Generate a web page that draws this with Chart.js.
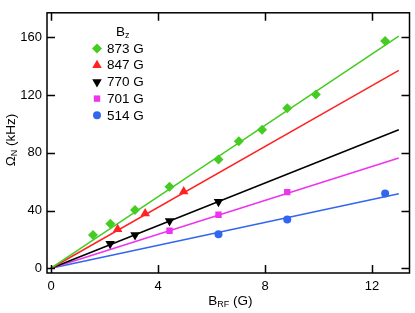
<!DOCTYPE html>
<html>
<head>
<meta charset="utf-8">
<script src="https://cdn.jsdelivr.net/npm/chart.js@4"></script>
<style>
  html, body { margin: 0; padding: 0; background: #fff; }
  #wrap { width: 415px; height: 313px; }
</style>
</head>
<body>
<div id="wrap"><canvas id="myChart" width="415" height="313"></canvas></div>
<script>
'use strict';

// series labels (B_z)
var labels = ['873 G', '847 G', '770 G', '701 G', '514 G'];
var colors = ['#44cc22', '#ff2222', '#000000', '#ee33ee', '#3366ee'];
var markers = ['rectRot', 'triangle', 'triangle', 'rect', 'circle'];
var markerRot = [0, 0, 180, 0, 0];
var markerSize = [5, 5.5, 5.5, 4.5, 4];

// measured points: B_RF (G)
var xs = [
  [1.57, 2.22, 3.14, 4.43, 6.26, 7.02, 7.89, 8.83, 9.9, 12.49],
  [2.49, 3.52, 4.96],
  [2.21, 3.14, 4.43, 6.26],
  [4.43, 6.26, 8.83],
  [6.26, 8.83, 12.49]
];
// Omega_N (kHz)
var ys = [
  [23, 30.9, 40.4, 56.5, 75.3, 88, 96, 110.9, 120.4, 157.5],
  [27.1, 38, 53.1],
  [16.9, 23.1, 32.7, 46],
  [26, 37.1, 52.7],
  [23.6, 33.8, 51.8]
];
// linear fits through the origin, value at B_RF = 13 G
var fitX = 13;
var fitEnd = [160.9, 137.1, 96, 76.4, 51.6];

var xTicks = [0, 4, 8, 12];
var yTicks = [0, 40, 80, 120, 160];

var FONT = 'Liberation Sans, Arial, sans-serif';

var datasets = [];
labels.forEach(function (lab, i) {
  datasets.push({
    type: 'line',
    label: lab + ' fit',
    data: [{ x: 0, y: 0 }, { x: fitX, y: fitEnd[i] }],
    borderColor: colors[i],
    borderWidth: 1.5,
    pointRadius: 0,
    fill: false,
    order: 2
  });
});
labels.forEach(function (lab, i) {
  datasets.push({
    type: 'scatter',
    label: lab,
    data: xs[i].map(function (x, k) { return { x: x, y: ys[i][k] }; }),
    backgroundColor: colors[i],
    borderColor: colors[i],
    borderWidth: 0,
    pointStyle: markers[i],
    rotation: markerRot[i],
    pointRadius: markerSize[i],
    order: 1
  });
});

// inward ticks, frame, legend and axis titles
var decor = {
  id: 'decor',
  afterDraw: function (chart) {
    var ctx = chart.ctx;
    var a = chart.chartArea;
    var sx = chart.scales.x, sy = chart.scales.y;
    ctx.save();
    ctx.strokeStyle = '#000';
    ctx.lineWidth = 1.5;
    ctx.strokeRect(a.left, a.top, a.right - a.left, a.bottom - a.top);
    ctx.beginPath();
    xTicks.forEach(function (v) {
      var px = Math.round(sx.getPixelForValue(v)) + 0.5;
      ctx.moveTo(px, a.bottom); ctx.lineTo(px, a.bottom - 8);
      ctx.moveTo(px, a.top); ctx.lineTo(px, a.top + 8);
    });
    yTicks.forEach(function (v) {
      var py = Math.round(sy.getPixelForValue(v)) + 0.5;
      ctx.moveTo(a.left, py); ctx.lineTo(a.left + 8, py);
      ctx.moveTo(a.right, py); ctx.lineTo(a.right - 8, py);
    });
    ctx.stroke();

    // legend
    ctx.fillStyle = '#000';
    ctx.textBaseline = 'middle';
    ctx.textAlign = 'left';
    ctx.font = '13.5px ' + FONT;
    ctx.fillText('B', 116, 32);
    ctx.font = '9px ' + FONT;
    ctx.fillText('z', 125, 36);
    ctx.font = '13.5px ' + FONT;
    labels.forEach(function (lab, i) {
      var y = 48.5 + i * 16.7;
      var st = { pointStyle: markers[i], rotation: markerRot[i], radius: markerSize[i], borderWidth: 0 };
      ctx.fillStyle = colors[i];
      ctx.strokeStyle = colors[i];
      if (Chart.helpers && Chart.helpers.drawPoint) {
        Chart.helpers.drawPoint(ctx, st, 97, y);
      }
      ctx.fillStyle = '#000';
      ctx.fillText(lab, 107, y + 0.5);
    });

    // x title: B_RF (G)
    ctx.font = '13.5px ' + FONT;
    var cx = (a.left + a.right) / 2 + 2;
    var w1 = ctx.measureText('B').width;
    ctx.font = '9px ' + FONT;
    var w2 = ctx.measureText('RF').width;
    ctx.font = '13.5px ' + FONT;
    var w3 = ctx.measureText(' (G)').width;
    var x0 = cx - (w1 + w2 + w3) / 2;
    ctx.fillText('B', x0, 301);
    ctx.font = '9px ' + FONT;
    ctx.fillText('RF', x0 + w1, 305);
    ctx.font = '13.5px ' + FONT;
    ctx.fillText(' (G)', x0 + w1 + w2, 301);

    // y title: Omega_N (kHz)
    ctx.translate(11, 140);
    ctx.rotate(-Math.PI / 2);
    var v1 = ctx.measureText('\u03A9').width;
    ctx.font = '9px ' + FONT;
    var v2 = ctx.measureText('N').width;
    ctx.font = '13.5px ' + FONT;
    var v3 = ctx.measureText(' (kHz)').width;
    var y0 = -(v1 + v2 + v3) / 2;
    ctx.fillText('\u03A9', y0, 0);
    ctx.font = '9px ' + FONT;
    ctx.fillText('N', y0 + v1, 4);
    ctx.font = '13.5px ' + FONT;
    ctx.fillText(' (kHz)', y0 + v1 + v2, 0);
    ctx.restore();
  }
};

var myChart = new Chart(document.getElementById('myChart'), {
  type: 'scatter',
  data: { datasets: datasets },
  options: {
    responsive: false,
    animation: false,
    layout: { padding: { top: 2, right: 2, left: 0, bottom: 0 } },
    plugins: {
      legend: { display: false },
      tooltip: { enabled: false }
    },
    scales: {
      x: {
        type: 'linear',
        min: -0.15,
        max: 13.4,
        afterBuildTicks: function (s) { s.ticks = xTicks.map(function (v) { return { value: v }; }); },
        afterFit: function (s) { s.height = 40; },
        grid: { display: true, drawOnChartArea: false, drawTicks: false },
        border: { display: false },
        ticks: { color: '#000', padding: 6, maxRotation: 0, font: { family: FONT, size: 13 } }
      },
      y: {
        type: 'linear',
        min: -3.3,
        max: 177,
        afterBuildTicks: function (s) { s.ticks = yTicks.map(function (v) { return { value: v }; }); },
        afterFit: function (s) { s.width = 47; },
        grid: { display: true, drawOnChartArea: false, drawTicks: false },
        border: { display: false },
        ticks: { color: '#000', padding: 5, font: { family: FONT, size: 13 } }
      }
    }
  },
  plugins: [decor]
});
</script>
</body>
</html>
